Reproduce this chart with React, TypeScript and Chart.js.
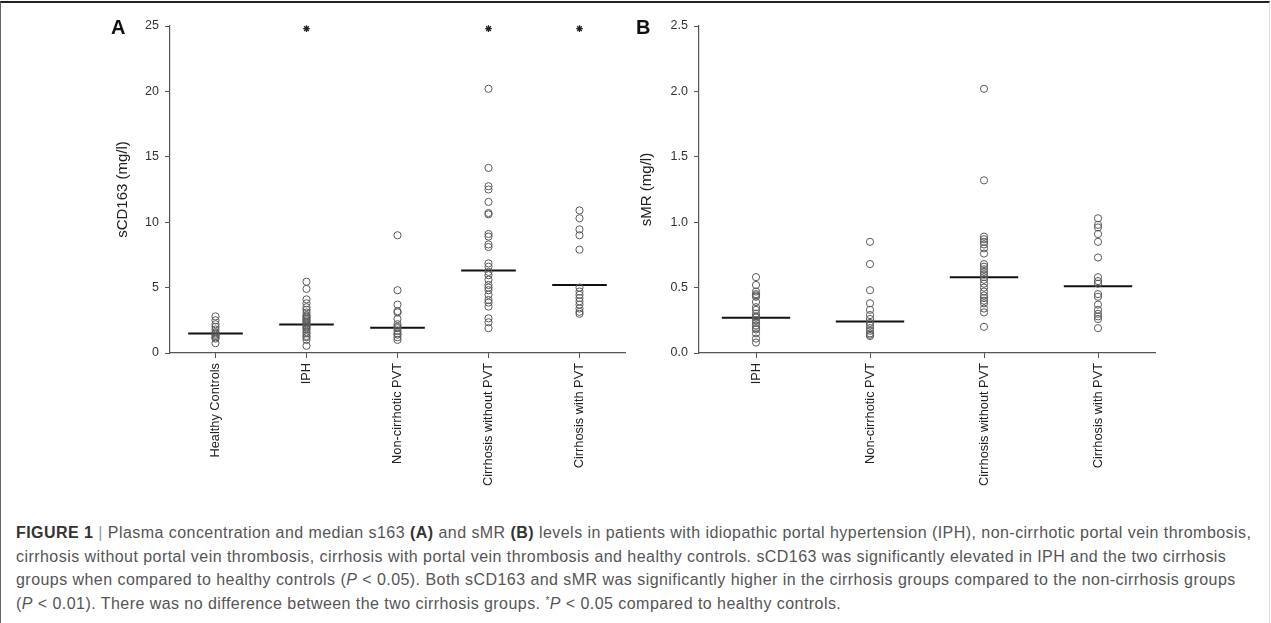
import React, { useEffect, useRef } from "react";
import { Chart, registerables } from "chart.js";

Chart.register(...registerables);

// ---------- Panel A data (sCD163, mg/l) ----------
const groupsA = ["Healthy Controls", "IPH", "Non-cirrhotic PVT", "Cirrhosis without PVT", "Cirrhosis with PVT"];
const healthyA = [2.8, 2.5, 2.2, 2.0, 1.8, 1.6, 1.5, 1.4, 1.3, 1.2, 1.1, 0.75];
const iphA = [5.45, 4.9, 4.1, 3.8, 3.5, 3.3, 3.1, 2.9, 2.8, 2.7, 2.6, 2.5, 2.4, 2.3, 2.2, 2.1, 2.0, 1.9, 1.8, 1.6, 1.5, 1.3, 1.2, 1.0, 0.55];
const ncpvtA = [9.0, 4.8, 3.7, 3.2, 3.1, 2.6, 2.2, 2.0, 1.9, 1.7, 1.5, 1.4, 1.2, 1.0];
const cirrNoPvtA = [20.2, 14.15, 12.75, 12.5, 11.55, 10.7, 10.6, 9.1, 8.9, 8.3, 8.1, 6.85, 6.6, 6.2, 5.95, 5.6, 5.2, 5.0, 4.8, 4.45, 4.05, 3.85, 3.55, 2.65, 2.35, 1.9];
const cirrPvtA = [10.9, 10.3, 9.45, 9.0, 7.9, 5.0, 4.7, 4.45, 4.2, 3.95, 3.7, 3.4, 3.15, 3.0];
const mediansA = [1.5, 2.18, 1.93, 6.3, 5.2];
const starsA = [false, true, false, true, true];
const starLevelA = 24.8;
const yMaxA = 25;
const yStepA = 5;

// ---------- Panel B data (sMR, mg/l) ----------
const groupsB = ["IPH", "Non-cirrhotic PVT", "Cirrhosis without PVT", "Cirrhosis with PVT"];
const iphB = [0.58, 0.52, 0.47, 0.45, 0.44, 0.43, 0.39, 0.35, 0.33, 0.30, 0.28, 0.27, 0.25, 0.23, 0.21, 0.19, 0.18, 0.15, 0.11, 0.08];
const ncpvtB = [0.85, 0.68, 0.48, 0.38, 0.33, 0.29, 0.26, 0.23, 0.21, 0.19, 0.17, 0.15, 0.14, 0.13];
const cirrNoPvtB = [2.02, 1.32, 0.89, 0.87, 0.85, 0.83, 0.80, 0.76, 0.68, 0.66, 0.64, 0.62, 0.60, 0.58, 0.56, 0.53, 0.50, 0.47, 0.44, 0.42, 0.40, 0.38, 0.34, 0.31, 0.20];
const cirrPvtB = [1.03, 0.98, 0.96, 0.91, 0.85, 0.73, 0.58, 0.55, 0.53, 0.45, 0.43, 0.37, 0.33, 0.30, 0.28, 0.26, 0.19];
const mediansB = [0.27, 0.24, 0.58, 0.51];
const yMaxB = 2.5;
const yStepB = 0.5;

const FONT = "'Liberation Sans', Arial, Helvetica, sans-serif";

type PanelSpec = {
  groups: string[];
  series: number[][];
  medians: number[];
  stars: boolean[] | null;
  starLevel: number;
  yMax: number;
  yStep: number;
  decimals: number;
  yTitle: string;
  titlePad: number;
  padding: { left: number; top: number; right: number; bottom: number };
};

function buildConfig(p: PanelSpec): any {
  const datasets: any[] = [];
  p.series.forEach((vals, i) => {
    datasets.push({
      type: "scatter",
      data: vals.map((v) => ({ x: i, y: v })),
      pointStyle: "circle",
      pointRadius: 3.6,
      pointBorderWidth: 1,
      pointBorderColor: "#5a5a5a",
      pointBackgroundColor: "rgba(0,0,0,0)",
      clip: false,
    });
  });
  p.medians.forEach((m, i) => {
    datasets.push({
      type: "scatter",
      showLine: true,
      data: [
        { x: i - 0.3, y: m },
        { x: i + 0.3, y: m },
      ],
      borderColor: "#111",
      borderWidth: 2,
      pointRadius: 0,
      clip: false,
    });
  });
  if (p.stars) {
    datasets.push({
      type: "scatter",
      data: p.stars
        .map((s, i) => (s ? { x: i, y: p.starLevel } : null))
        .filter((d) => d !== null),
      pointStyle: "star",
      pointRadius: 3.3,
      pointBorderWidth: 1.3,
      pointBorderColor: "#222",
      pointBackgroundColor: "#222",
      clip: false,
    });
  }
  const n = p.groups.length;
  return {
    type: "scatter",
    data: { datasets },
    options: {
      animation: false,
      responsive: false,
      events: [],
      layout: { padding: p.padding },
      plugins: { legend: { display: false }, tooltip: { enabled: false } },
      scales: {
        x: {
          type: "linear",
          min: -0.5,
          max: n - 0.5,
          afterBuildTicks: (s: any) => {
            s.ticks = p.groups.map((_, i) => ({ value: i }));
          },
          afterFit: (s: any) => {
            s.height = 147;
          },
          ticks: {
            autoSkip: false,
            minRotation: 90,
            maxRotation: 90,
            padding: 5,
            color: "#222",
            font: { family: FONT, size: 12.8 },
            callback: (v: any) => p.groups[Math.round(Number(v))] ?? "",
          },
          grid: {
            display: true,
            drawOnChartArea: false,
            drawTicks: true,
            tickLength: 5,
            tickColor: "#555",
            tickWidth: 1,
          },
          border: { display: true, color: "#555", width: 1.2 },
        },
        y: {
          type: "linear",
          min: 0,
          max: p.yMax,
          afterFit: (s: any) => {
            s.width = 62;
          },
          ticks: {
            stepSize: p.yStep,
            padding: 6,
            color: "#333",
            font: { family: FONT, size: 12.5 },
            callback: (v: any) => Number(v).toFixed(p.decimals),
          },
          grid: {
            display: true,
            drawOnChartArea: false,
            drawTicks: true,
            tickLength: 5,
            tickColor: "#555",
            tickWidth: 1,
          },
          border: { display: true, color: "#555", width: 1.2 },
          title: {
            display: true,
            text: p.yTitle,
            color: "#222",
            font: { family: FONT, size: 15 },
            padding: { top: p.titlePad, bottom: 0 },
          },
        },
      },
    },
  };
}

function Panel(props: { spec: PanelSpec; left: number; width: number; height: number }) {
  const ref = useRef<HTMLCanvasElement | null>(null);
  useEffect(() => {
    if (!ref.current) return;
    const chart = new Chart(ref.current, buildConfig(props.spec));
    return () => chart.destroy();
  }, []);
  return (
    <canvas
      ref={ref}
      width={props.width}
      height={props.height}
      style={{ position: "absolute", left: props.left, top: 0, width: props.width, height: props.height }}
    />
  );
}

const specA: PanelSpec = {
  groups: groupsA,
  series: [healthyA, iphA, ncpvtA, cirrNoPvtA, cirrPvtA],
  medians: mediansA,
  stars: starsA,
  starLevel: starLevelA,
  yMax: yMaxA,
  yStep: yStepA,
  decimals: 0,
  yTitle: "sCD163 (mg/l)",
  titlePad: 6,
  padding: { left: 108, top: 26, right: 15, bottom: 0 },
};

const specB: PanelSpec = {
  groups: groupsB,
  series: [iphB, ncpvtB, cirrNoPvtB, cirrPvtB],
  medians: mediansB,
  stars: null,
  starLevel: 0,
  yMax: yMaxB,
  yStep: yStepB,
  decimals: 1,
  yTitle: "sMR (mg/l)",
  titlePad: 1,
  padding: { left: 57, top: 26, right: 116, bottom: 0 },
};

export default function App() {
  const P = (t: string) => <i>{t}</i>;
  return (
    <div
      style={{
        position: "absolute",
        left: 0,
        top: 0,
        width: 1271,
        height: 623,
        overflow: "hidden",
        background: "#fff",
        fontFamily: FONT,
      }}
    >
      <div
        style={{
          position: "absolute",
          left: 0,
          top: 1,
          width: 1270,
          height: 700,
          boxSizing: "border-box",
          borderTop: "2px solid #222",
          borderLeft: "1px solid #666",
          borderRight: "1px solid #ddd",
        }}
      />
      <Panel spec={specA} left={0} width={640} height={500} />
      <Panel spec={specB} left={580} width={691} height={500} />
      <div style={{ position: "absolute", left: 111, top: 16, fontSize: 20, lineHeight: "22px", fontWeight: "bold", color: "#111" }}>A</div>
      <div style={{ position: "absolute", left: 636, top: 16, fontSize: 20, lineHeight: "22px", fontWeight: "bold", color: "#111" }}>B</div>
      <div
        style={{
          position: "absolute",
          left: 16,
          top: 521,
          fontSize: 16,
          letterSpacing: "0.45px",
          lineHeight: "23.5px",
          color: "#555",
          whiteSpace: "nowrap",
        }}
      >
        <div>
          <b style={{ color: "#333" }}>FIGURE 1</b> <span style={{ color: "#999" }}>|</span> Plasma concentration and median s163{" "}
          <b style={{ color: "#333" }}>(A)</b> and sMR <b style={{ color: "#333" }}>(B)</b> levels in patients with idiopathic portal
          hypertension (IPH), non-cirrhotic portal vein thrombosis,
        </div>
        <div>
          cirrhosis without portal vein thrombosis, cirrhosis with portal vein thrombosis and healthy controls. sCD163 was significantly
          elevated in IPH and the two cirrhosis
        </div>
        <div>
          groups when compared to healthy controls ({P("P")} &lt; 0.05). Both sCD163 and sMR was significantly higher in the cirrhosis
          groups compared to the non-cirrhosis groups
        </div>
        <div style={{ height: 23.5, overflow: "visible" }}>
          ({P("P")} &lt; 0.01). There was no difference between the two cirrhosis groups.{" "}
          <span style={{ fontSize: 10, position: "relative", top: -5, lineHeight: 0 }}>*</span>
          {P("P")} &lt; 0.05 compared to healthy controls.
        </div>
      </div>
    </div>
  );
}
